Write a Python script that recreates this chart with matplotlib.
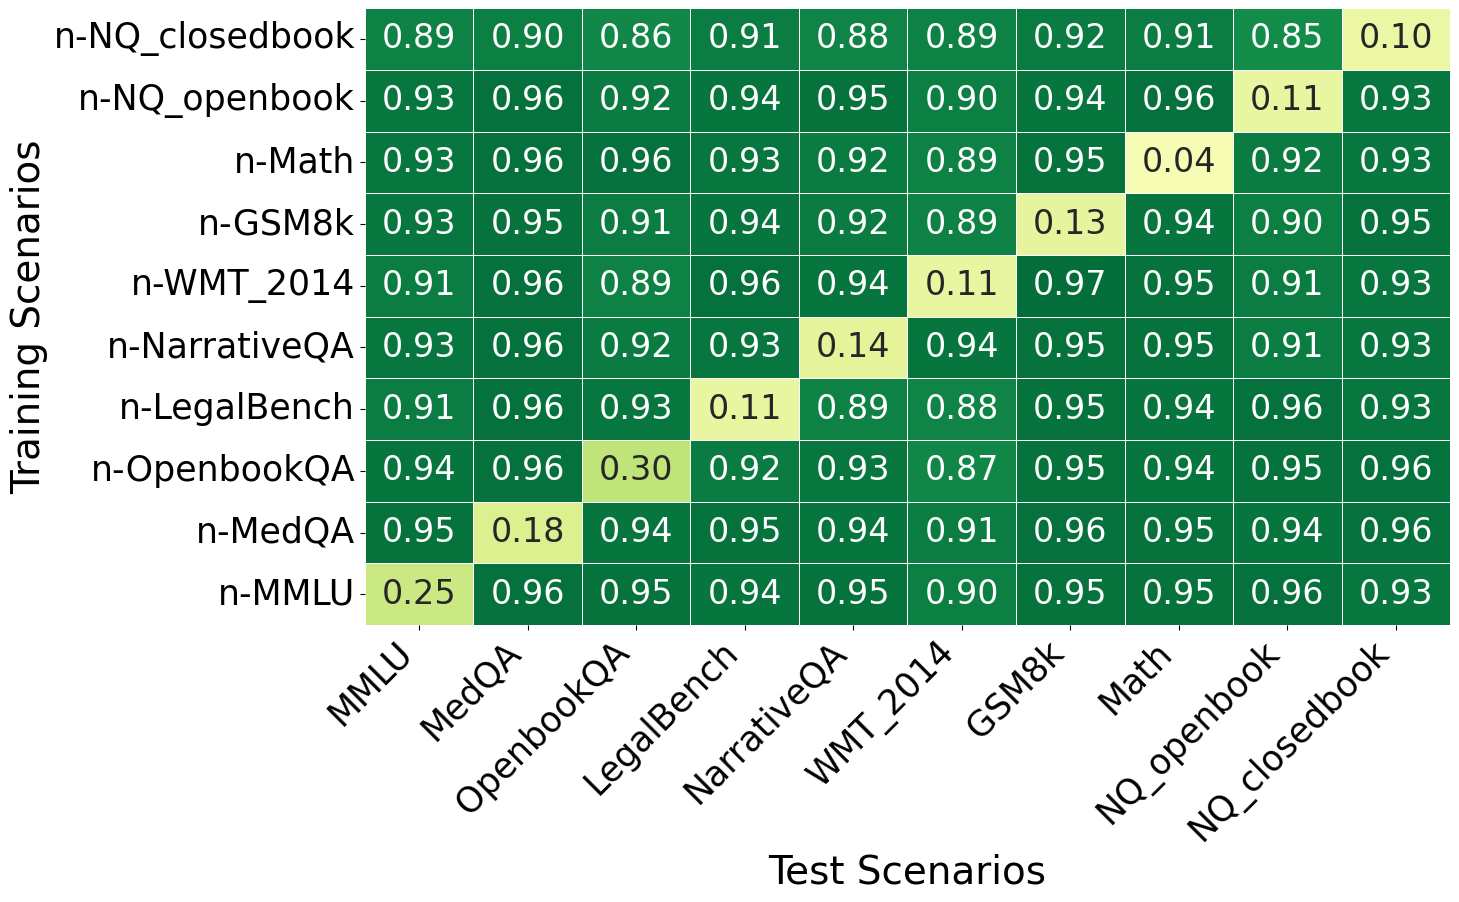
import numpy as np
import matplotlib
matplotlib.use('Agg')
import matplotlib.pyplot as plt
import seaborn as sns

train_labels = ['n-NQ_closedbook', 'n-NQ_openbook', 'n-Math', 'n-GSM8k', 'n-WMT_2014',
                'n-NarrativeQA', 'n-LegalBench', 'n-OpenbookQA', 'n-MedQA', 'n-MMLU']
test_labels = ['MMLU', 'MedQA', 'OpenbookQA', 'LegalBench', 'NarrativeQA',
               'WMT_2014', 'GSM8k', 'Math', 'NQ_openbook', 'NQ_closedbook']

row_nq_closed = [0.89, 0.90, 0.86, 0.91, 0.88, 0.89, 0.92, 0.91, 0.85, 0.10]
row_nq_open = [0.93, 0.96, 0.92, 0.94, 0.95, 0.90, 0.94, 0.96, 0.11, 0.93]
row_math = [0.93, 0.96, 0.96, 0.93, 0.92, 0.89, 0.95, 0.04, 0.92, 0.93]
row_gsm8k = [0.93, 0.95, 0.91, 0.94, 0.92, 0.89, 0.13, 0.94, 0.90, 0.95]
row_wmt = [0.91, 0.96, 0.89, 0.96, 0.94, 0.11, 0.97, 0.95, 0.91, 0.93]
row_narrative = [0.93, 0.96, 0.92, 0.93, 0.14, 0.94, 0.95, 0.95, 0.91, 0.93]
row_legal = [0.91, 0.96, 0.93, 0.11, 0.89, 0.88, 0.95, 0.94, 0.96, 0.93]
row_openbook = [0.94, 0.96, 0.30, 0.92, 0.93, 0.87, 0.95, 0.94, 0.95, 0.96]
row_medqa = [0.95, 0.18, 0.94, 0.95, 0.94, 0.91, 0.96, 0.95, 0.94, 0.96]
row_mmlu = [0.25, 0.96, 0.95, 0.94, 0.95, 0.90, 0.95, 0.95, 0.96, 0.93]

data = np.array([row_nq_closed, row_nq_open, row_math, row_gsm8k, row_wmt,
                 row_narrative, row_legal, row_openbook, row_medqa, row_mmlu])

fig, ax = plt.subplots(figsize=(14.59, 9.02), dpi=100)
fig.subplots_adjust(left=0.25, right=0.994, top=0.991, bottom=0.307)

sns.heatmap(data, ax=ax, cmap='RdYlGn', vmin=-1, vmax=1, annot=True, fmt='.2f',
            annot_kws={'fontsize': 24}, linewidths=0.7, linecolor='white', cbar=False,
            xticklabels=test_labels, yticklabels=train_labels)

ax.set_xticklabels(test_labels, rotation=45, ha='right', fontsize=25)
ax.set_yticklabels(train_labels, rotation=0, fontsize=25)
ax.set_xlabel('Test Scenarios', fontsize=28)
ax.set_ylabel('Training Scenarios', fontsize=28)

plt.savefig('out.png')
plt.close()
